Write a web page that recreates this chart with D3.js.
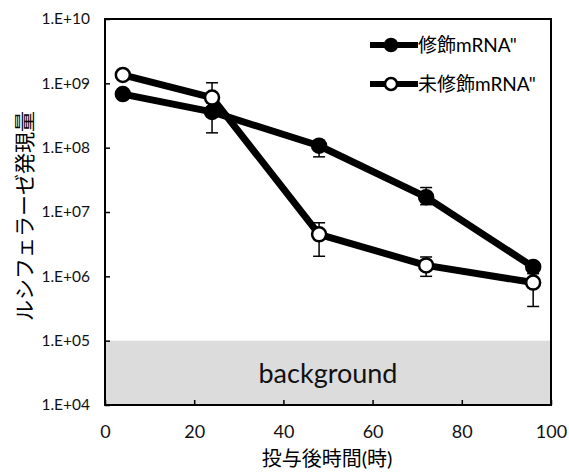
<!DOCTYPE html>
<html>
<head>
<meta charset="utf-8">
<script src="https://cdn.jsdelivr.net/npm/d3@7"></script>
<style>
  body { margin: 0; background: #fff; }
  text { font-family: Lato, "Noto Sans CJK JP", sans-serif; }
</style>
</head>
<body>
<svg id="chart" width="569" height="472"></svg>
<script>
// data
const times = [4, 24, 48, 72, 96];
const modified = [6.8e8, 3.6e8, 1.07e8, 1.7e7, 1.4e6];
const modifiedLo = [6.0e8, 1.7e8, 7.2e7, 1.3e7, 1.2e6];
const modifiedHi = [7.6e8, 5.0e8, 1.3e8, 2.4e7, 1.6e6];
const unmodified = [1.35e9, 6.0e8, 4.5e6, 1.48e6, 8.0e5];
const unmodifiedLo = [1.2e9, 3.5e8, 2.05e6, 1.0e6, 3.4e5];
const unmodifiedHi = [1.5e9, 1.02e9, 6.8e6, 2.0e6, 1.1e6];
const xTicks = [0, 20, 40, 60, 80, 100];
const yTicks = [1e4, 1e5, 1e6, 1e7, 1e8, 1e9, 1e10];
const backgroundLevel = 1e5;

const seriesNames = ['修飾mRNA"', '未修飾mRNA"'];

// plot area
const plotLeft = 105, plotRight = 551, plotTop = 19, plotBottom = 405;

const x = d3.scaleLinear().domain([0, 100]).range([plotLeft, plotRight]);
const y = d3.scaleLog().domain([1e4, 1e10]).range([plotBottom, plotTop]);

const svg = d3.select('#chart');

// background band
svg.append('rect')
  .attr('x', x(0))
  .attr('y', y(backgroundLevel))
  .attr('width', x(100) - x(0))
  .attr('height', y(1e4) - y(backgroundLevel))
  .attr('fill', '#dcdcdc');

svg.append('text')
  .attr('x', x(50))
  .attr('y', 383)
  .attr('text-anchor', 'middle')
  .attr('font-size', 27)
  .attr('fill', '#111')
  .text('background');

// axes (ticks point inward)
const yAxis = d3.axisLeft(y).tickValues(yTicks).tickSize(-5).tickPadding(15)
  .tickFormat(d => '1.E+' + String(Math.round(Math.log10(d))).padStart(2, '0'));
const gy = svg.append('g').attr('transform', `translate(${plotLeft},0)`).call(yAxis);
gy.select('.domain').remove();
gy.selectAll('.tick line').attr('stroke', '#000').attr('stroke-width', 1.5);
gy.selectAll('.tick text').attr('font-size', 15.5).attr('fill', '#111');

const xAxis = d3.axisBottom(x).tickValues(xTicks).tickSize(-5).tickPadding(20);
const gx = svg.append('g').attr('transform', `translate(0,${plotBottom})`).call(xAxis);
gx.select('.domain').remove();
gx.selectAll('.tick line').attr('stroke', '#000').attr('stroke-width', 1.5);
gx.selectAll('.tick text').attr('font-size', 18).attr('fill', '#111');

// frame
svg.append('rect')
  .attr('x', plotLeft).attr('y', plotTop)
  .attr('width', plotRight - plotLeft).attr('height', plotBottom - plotTop)
  .attr('fill', 'none').attr('stroke', '#000').attr('stroke-width', 2);

// axis titles
svg.append('text')
  .attr('transform', 'translate(32,216) rotate(-90)')
  .attr('text-anchor', 'middle')
  .attr('font-size', 21)
  .attr('font-family', '"Noto Sans CJK JP", sans-serif')
  .text('ルシフェラーゼ発現量');

svg.append('text')
  .attr('x', 327).attr('y', 466)
  .attr('text-anchor', 'middle')
  .attr('font-size', 20)
  .attr('font-family', '"Noto Sans CJK JP", sans-serif')
  .text('投与後時間(時)');

// series
const series = [
  { name: seriesNames[0], vals: modified, lo: modifiedLo, hi: modifiedHi, fill: '#000' },
  { name: seriesNames[1], vals: unmodified, lo: unmodifiedLo, hi: unmodifiedHi, fill: '#fff' }
];

const line = d3.line().x(d => x(d[0])).y(d => y(d[1]));

series.forEach(s => {
  const pts = times.map((t, i) => [t, s.vals[i]]);
  svg.append('path')
    .attr('d', line(pts))
    .attr('fill', 'none')
    .attr('stroke', '#000')
    .attr('stroke-width', 7)
    .attr('stroke-linejoin', 'round');
});

series.forEach(s => {
  const g = svg.append('g');
  times.forEach((t, i) => {
    const cx = x(t);
    g.append('line')
      .attr('x1', cx).attr('x2', cx)
      .attr('y1', y(s.lo[i])).attr('y2', y(s.hi[i]))
      .attr('stroke', '#000').attr('stroke-width', 1.5);
    [s.lo[i], s.hi[i]].forEach(v => {
      g.append('line')
        .attr('x1', cx - 6).attr('x2', cx + 6)
        .attr('y1', y(v)).attr('y2', y(v))
        .attr('stroke', '#000').attr('stroke-width', 1.5);
    });
  });
});

series.forEach(s => {
  svg.append('g').selectAll('circle')
    .data(times.map((t, i) => [t, s.vals[i]]))
    .join('circle')
    .attr('cx', d => x(d[0]))
    .attr('cy', d => y(d[1]))
    .attr('r', 7)
    .attr('fill', s.fill)
    .attr('stroke', '#000')
    .attr('stroke-width', 2.5);
});

// legend
const legendY = [45, 84];
series.forEach((s, i) => {
  const g = svg.append('g').attr('transform', `translate(370,${legendY[i]})`);
  g.append('line')
    .attr('x1', 0).attr('x2', 48)
    .attr('stroke', '#000').attr('stroke-width', 6);
  g.append('circle')
    .attr('cx', 21).attr('r', 6)
    .attr('fill', s.fill)
    .attr('stroke', '#000').attr('stroke-width', 2.5);
  g.append('text')
    .attr('x', 48).attr('y', 7)
    .attr('font-size', 19)
    .attr('font-family', '"Open Sans", "Noto Sans CJK JP", sans-serif')
    .text(s.name);
});
</script>
</body>
</html>
